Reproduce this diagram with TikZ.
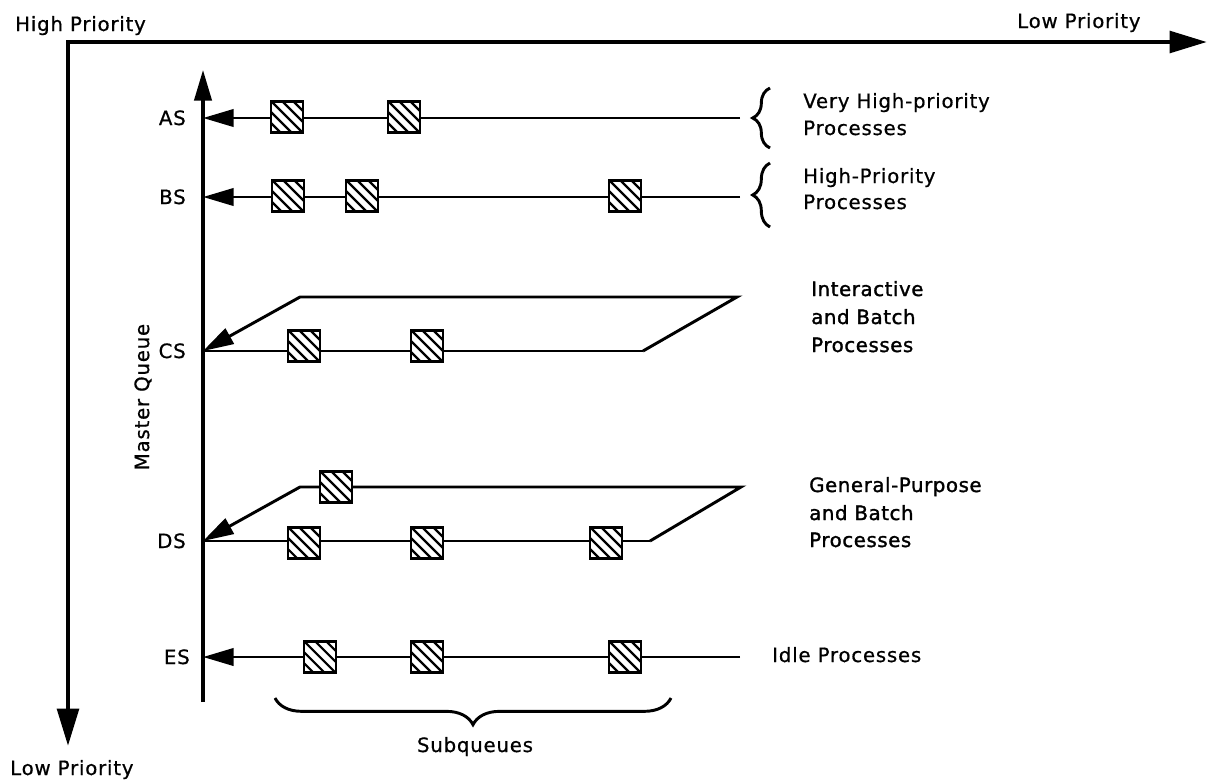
\documentclass[tikz,border=0pt]{standalone}
\usepackage{fontspec}
\setmainfont{DejaVu Sans}[LetterSpace=4, FakeBold=0.7]
\newfontfamily\heavyfont{DejaVu Sans}[LetterSpace=3, FakeBold=1.5]
\usetikzlibrary{arrows.meta,decorations.pathreplacing}

\begin{document}
\begin{tikzpicture}[x=0.75pt,y=-0.75pt,
  lbl/.style={font=\fontsize{14.8}{17}\selectfont, inner sep=0pt},
  hlbl/.style={font=\heavyfont\fontsize{14.8}{17}\selectfont, inner sep=0pt},
  axis/.style={line width=3.5pt, line join=miter,
    {Triangle[length=28pt,width=16pt]}-{Triangle[length=28pt,width=16pt]}},
  master/.style={line width=2.4pt, -{Triangle[length=23pt,width=13pt]}},
  row/.style={line width=2.2pt, line join=miter, -{Triangle[length=23pt,width=13pt]}},
  edge/.style={line width=2.2pt},
  job/.style={draw, line width=2pt, fill=white, minimum width=24pt,
    minimum height=23pt, inner sep=0pt,
    path picture={\foreach \k in {-33,-22,...,33}{
      \draw[line width=1.6pt]
        ([shift={(\k-25,-25)}]path picture bounding box.center) --
        ([shift={(\k+25,25)}]path picture bounding box.center);}}},
  bracer/.style={decorate, decoration={brace, amplitude=13pt}, line width=2.2pt},
]
\useasboundingbox (0,0) rectangle (1210,783);

% priority axes
\coordinate (corner) at (68,42);
\coordinate (hiend) at (1207,42);
\coordinate (loend) at (68,746);
\draw[axis] (loend) -- (corner) -- (hiend);
\node[lbl, anchor=base west] (hp) at (15,31) {High Priority};
\node[lbl, anchor=base west] (lpr) at (1017,28) {Low Priority};
\node[lbl, anchor=base west] (lpb) at (10,775) {Low Priority};

% master queue
\coordinate (mqtop) at (203,70);
\coordinate (mqbot) at (203,702);
\draw[master] (mqbot) -- (mqtop);
\node[lbl, rotate=90] (mq) at (143,397) {Master Queue};

% queue heads on the master queue
\coordinate (AS) at (203,118);
\coordinate (BS) at (203,197);
\coordinate (CS) at (203,351);
\coordinate (DS) at (203,541);
\coordinate (ES) at (203,657);
\node[lbl, anchor=base east] (lAS) at (186,125) {AS};
\node[lbl, anchor=base east] (lBS) at (186,204) {BS};
\node[lbl, anchor=base east] (lCS) at (186,358) {CS};
\node[lbl, anchor=base east] (lDS) at (186,548) {DS};
\node[lbl, anchor=base east] (lES) at (190,664) {ES};

% simple subqueues
\coordinate (ASr) at (740,118);
\coordinate (BSr) at (740,197);
\coordinate (ESr) at (740,657);
\draw[row] (ASr) -- (AS);
\draw[row] (BSr) -- (BS);
\draw[row] (ESr) -- (ES);

% two-level subqueues
\coordinate (CSbr) at (643,351);
\coordinate (CStr) at (737,297);
\coordinate (CStl) at (300,297);
\draw[edge] (CSbr) -- (CS);
\draw[row] (CSbr) -- (CStr) -- (CStl) -- (CS);
\coordinate (DSbr) at (650,541);
\coordinate (DStr) at (741,487);
\coordinate (DStl) at (300,487);
\draw[edge] (DSbr) -- (DS);
\draw[row] (DSbr) -- (DStr) -- (DStl) -- (DS);

% waiting processes
\node[job] (a1) at (287,117) {};
\node[job] (a2) at (404,117) {};
\node[job] (b1) at (288,196) {};
\node[job] (b2) at (362,196) {};
\node[job] (b3) at (625,196) {};
\node[job] (c1) at (304,346) {};
\node[job] (c2) at (427,346) {};
\node[job] (d0) at (336,487) {};
\node[job] (d1) at (304,543) {};
\node[job] (d2) at (427,543) {};
\node[job] (d3) at (606,543) {};
\node[job] (e1) at (320,657) {};
\node[job] (e2) at (427,657) {};
\node[job] (e3) at (625,657) {};

% class descriptions
\coordinate (brAt) at (770,88);
\coordinate (brAb) at (770,148);
\coordinate (brBt) at (770,163);
\coordinate (brBb) at (770,227);
\draw[bracer] (brAb) -- (brAt);
\draw[bracer] (brBb) -- (brBt);
\node[lbl, anchor=base west] (tA1) at (803,108) {Very High-priority};
\node[lbl, anchor=base west] (tA2) at (803,135) {Processes};
\node[lbl, anchor=base west] (tB1) at (803,183) {High-Priority};
\node[lbl, anchor=base west] (tB2) at (803,209) {Processes};
\node[hlbl, anchor=base west] (tC1) at (811,296) {Interactive};
\node[hlbl, anchor=base west] (tC2) at (811,324) {and Batch};
\node[hlbl, anchor=base west] (tC3) at (811,352) {Processes};
\node[hlbl, anchor=base west] (tD1) at (809,492) {General-Purpose};
\node[hlbl, anchor=base west] (tD2) at (809,520) {and Batch};
\node[hlbl, anchor=base west] (tD3) at (809,547) {Processes};
\node[lbl, anchor=base west] (tE) at (772,662) {Idle Processes};

% subqueue brace
\coordinate (sbl) at (275,698);
\coordinate (sbr) at (671,698);
\draw[bracer, decoration={brace, amplitude=20pt}] (sbr) -- (sbl);
\node[lbl, anchor=base] (sq) at (475,752) {Subqueues};
\end{tikzpicture}
\end{document}
